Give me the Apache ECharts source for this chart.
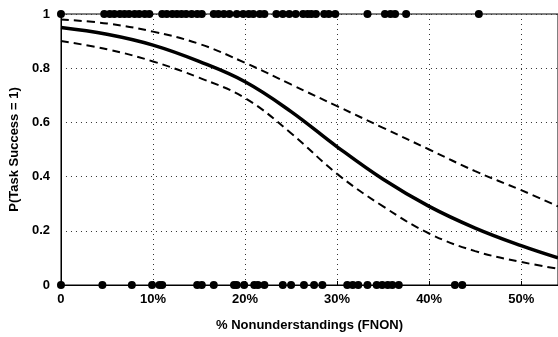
<!DOCTYPE html>
<html>
<head>
<meta charset="utf-8">
<script src="https://cdn.jsdelivr.net/npm/echarts@6/dist/echarts.min.js"></script>
<style>
  html, body { margin: 0; padding: 0; background: #fff; }
  #chart { width: 558px; height: 337px; }
</style>
</head>
<body>
<div id="chart"></div>
<script>
// observed outcomes: % nonunderstandings for successful (1) and failed (0) tasks
var success_x = [0, 4.7, 5.3, 5.8, 6.4, 6.9, 7.4, 8.0, 8.5, 9.1, 9.6, 11.0, 11.5, 12.1, 12.6, 13.1,
    13.6, 14.2, 14.8, 15.3, 16.6, 17.1, 17.7, 18.3, 19.1, 19.8, 20.4, 20.9, 21.6, 22.1, 23.4,
    24.1, 24.8, 25.5, 26.3, 26.8, 27.2, 27.7, 28.6, 29.1, 29.8, 33.3, 35.2, 35.8, 36.3, 37.5, 45.4];
var failure_x = [0, 4.5, 7.7, 9.9, 10.7, 11.0, 14.8, 15.3, 16.6, 18.8, 19.1, 19.9, 21.0, 21.4, 22.1,
    24.1, 25.0, 26.4, 27.5, 28.4, 31.1, 31.7, 32.3, 33.3, 34.3, 34.9, 35.5, 36.0, 36.7, 42.8, 43.6];

// fitted curve and confidence band
var curve_x = [0, 5, 10, 15, 20, 25, 30, 35, 40, 45, 50, 54];
var fit = [0.95, 0.925, 0.885, 0.825, 0.75, 0.64, 0.51, 0.39, 0.29, 0.21, 0.145, 0.10];
var upper = [0.98, 0.965, 0.935, 0.89, 0.82, 0.74, 0.66, 0.58, 0.50, 0.42, 0.35, 0.29];
var lower = [0.90, 0.87, 0.825, 0.765, 0.69, 0.56, 0.41, 0.29, 0.19, 0.125, 0.085, 0.06];

function pairs(xs, ys) {
    return xs.map(function (x, i) {
        return [x, typeof ys === 'number' ? ys : ys[i]];
    });
}

var font = 'Liberation Sans, Arial, sans-serif';
var chart = echarts.init(document.getElementById('chart'));
var option = {
    animation: false,
    grid: {
        left: 58,
        right: 0,
        top: 14,
        bottom: 51,
        show: true,
        borderColor: '#000',
        borderWidth: 1
    },
    xAxis: {
        type: 'value',
        min: 0,
        max: 54,
        interval: 10,
        name: '% Nonunderstandings (FNON)',
        nameLocation: 'middle',
        nameGap: 34,
        nameTextStyle: {color: '#000', fontWeight: 'bold', fontSize: 13, fontFamily: font},
        axisLine: {lineStyle: {color: '#000', width: 1}},
        axisTick: {inside: true, length: 4, lineStyle: {color: '#000'}},
        axisLabel: {
            color: '#000', fontWeight: 'bold', fontSize: 13, fontFamily: font, margin: 8,
            showMaxLabel: false,
            formatter: function (v) { return v === 0 ? '0' : v + '%'; }
        },
        splitLine: {show: true, lineStyle: {color: '#333', type: [1, 4], width: 1}}
    },
    yAxis: {
        type: 'value',
        min: 0,
        max: 1,
        interval: 0.2,
        name: 'P(Task Success = 1)',
        nameLocation: 'middle',
        nameGap: 38,
        nameTextStyle: {color: '#000', fontWeight: 'bold', fontSize: 13, fontFamily: font},
        axisLine: {lineStyle: {color: '#000', width: 1}},
        axisTick: {show: false},
        axisLabel: {
            color: '#000', fontWeight: 'bold', fontSize: 13, fontFamily: font, margin: 11,
            formatter: function (v) { return (v === 0 || v === 1) ? String(v) : v.toFixed(1); }
        },
        splitLine: {show: true, lineStyle: {color: '#333', type: [1, 4], width: 1}}
    },
    series: [
        {
            type: 'line',
            data: pairs(curve_x, upper),
            smooth: 0.4,
            symbol: 'none',
            lineStyle: {color: '#000', width: 2, type: [8, 5]}
        },
        {
            type: 'line',
            data: pairs(curve_x, lower),
            smooth: 0.4,
            symbol: 'none',
            lineStyle: {color: '#000', width: 2, type: [8, 5]}
        },
        {
            type: 'line',
            data: pairs(curve_x, fit),
            smooth: 0.4,
            symbol: 'none',
            lineStyle: {color: '#000', width: 3.5}
        },
        {
            type: 'scatter',
            data: pairs(success_x, 1),
            symbolSize: 8,
            clip: false,
            itemStyle: {color: '#000', opacity: 1}
        },
        {
            type: 'scatter',
            data: pairs(failure_x, 0),
            symbolSize: 8,
            clip: false,
            itemStyle: {color: '#000', opacity: 1}
        }
    ]
};
chart.setOption(option);
</script>
</body>
</html>
